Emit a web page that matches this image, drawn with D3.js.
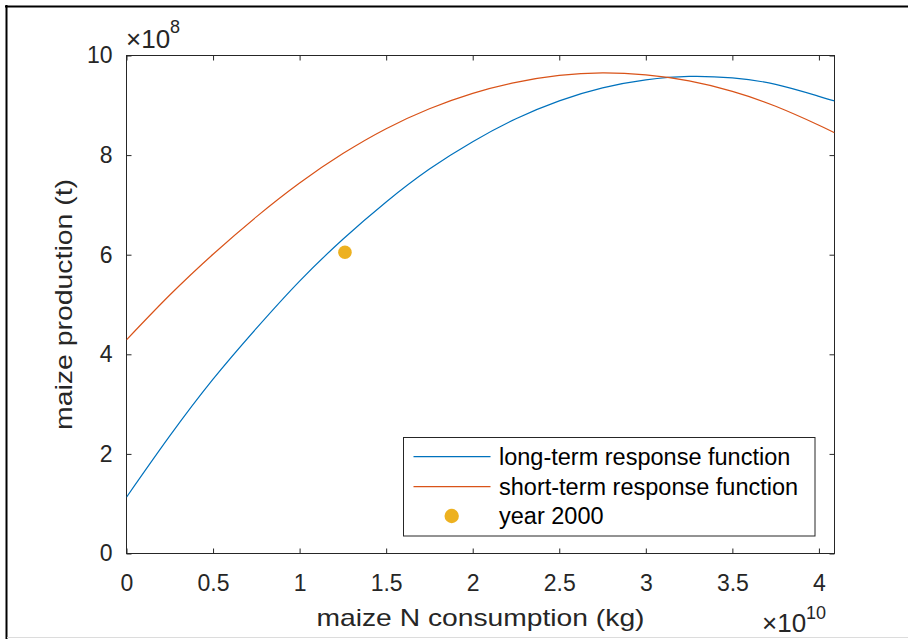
<!DOCTYPE html>
<html>
<head>
<meta charset="utf-8">
<script src="https://cdn.jsdelivr.net/npm/d3@7"></script>
<style>
  html, body { margin: 0; padding: 0; background: #ffffff; }
  svg { display: block; font-family: "Liberation Sans", Arial, Helvetica, sans-serif; }
</style>
</head>
<body>
<svg id="chart" width="908" height="639"></svg>
<script>
// ---- data (x in units of 1e10 kg, y in units of 1e8 t) ----
const nConsumption = [0, 0.25, 0.5, 0.75, 1.0, 1.25, 1.5, 1.75, 2.0, 2.25, 2.5, 2.75, 3.0, 3.25, 3.5, 3.75, 4.0, 4.09];
const longTerm  = [1.13, 2.36, 3.50, 4.52, 5.47, 6.31, 7.06, 7.72, 8.27, 8.73, 9.09, 9.35, 9.51, 9.58, 9.55, 9.42, 9.18, 9.09];
const shortTerm = [4.29, 5.19, 6.01, 6.76, 7.44, 8.03, 8.53, 8.93, 9.24, 9.46, 9.60, 9.65, 9.61, 9.49, 9.28, 8.98, 8.60, 8.45];
const year2000X = [1.262];
const year2000Y = [6.05];
const xTicks = [0, 0.5, 1, 1.5, 2, 2.5, 3, 3.5, 4];
const yTicks = [0, 2, 4, 6, 8, 10];
const seriesNames = ["long-term response function", "short-term response function", "year 2000"];
const colors = ["#0072BD", "#D95319", "#EDB120"];

const svg = d3.select("#chart");

// outer frame of the screenshot
svg.append("line").attr("x1", 5).attr("x2", 908).attr("y1", 6.5).attr("y2", 6.5).attr("stroke", "#000").attr("stroke-width", 2);
svg.append("line").attr("x1", 6.5).attr("x2", 6.5).attr("y1", 5).attr("y2", 639).attr("stroke", "#000").attr("stroke-width", 2);
svg.append("line").attr("x1", 7).attr("x2", 908).attr("y1", 637.5).attr("y2", 637.5).attr("stroke", "#dcdcdc").attr("stroke-width", 1);

const L = 126.5, R = 834.5, T = 55.5, B = 553.5;
const x = d3.scaleLinear().domain([0, 4.09]).range([L, R]);
const y = d3.scaleLinear().domain([0, 10]).range([B, T]);

const axisColor = "#262626";
function styleAxis(g) {
  g.select(".domain").remove();
  g.selectAll(".tick line").attr("stroke", axisColor).attr("stroke-width", 1);
  g.selectAll(".tick text").attr("fill", axisColor).style("font-size", "23px");
}

svg.append("g").attr("transform", `translate(0,${B})`)
  .call(d3.axisBottom(x).tickValues(xTicks).tickFormat(d3.format("")).tickSizeInner(-5).tickSizeOuter(0).tickPadding(21))
  .call(styleAxis);
svg.append("g").attr("transform", `translate(0,${T})`)
  .call(d3.axisTop(x).tickValues(xTicks).tickFormat("").tickSizeInner(-5).tickSizeOuter(0))
  .call(styleAxis);
svg.append("g").attr("transform", `translate(${L},0)`)
  .call(d3.axisLeft(y).tickValues(yTicks).tickFormat(d3.format("")).tickSizeInner(-5).tickSizeOuter(0).tickPadding(14))
  .call(styleAxis);
svg.append("g").attr("transform", `translate(${R},0)`)
  .call(d3.axisRight(y).tickValues(yTicks).tickFormat("").tickSizeInner(-5).tickSizeOuter(0))
  .call(styleAxis);

// axes box
svg.append("rect").attr("x", L).attr("y", T).attr("width", R - L).attr("height", B - T)
  .attr("fill", "none").attr("stroke", axisColor).attr("stroke-width", 1);

// curves
svg.append("clipPath").attr("id", "plotclip").append("rect")
  .attr("x", L).attr("y", T).attr("width", R - L).attr("height", B - T);
const plot = svg.append("g").attr("clip-path", "url(#plotclip)");
const line = d3.line().x(d => x(d[0])).y(d => y(d[1])).curve(d3.curveNatural);
[longTerm, shortTerm].forEach((vals, i) => {
  plot.append("path").datum(nConsumption.map((v, j) => [v, vals[j]]))
    .attr("d", line).attr("fill", "none").attr("stroke", colors[i]).attr("stroke-width", 1.2);
});
svg.selectAll("circle.pt").data(year2000X.map((v, j) => [v, year2000Y[j]])).enter()
  .append("circle").attr("class", "pt").attr("cx", d => x(d[0])).attr("cy", d => y(d[1]))
  .attr("r", 6.8).attr("fill", colors[2]);

// exponent labels
const e8 = svg.append("text").attr("x", 126).attr("y", 48).attr("fill", axisColor).style("font-size", "26px");
e8.append("tspan").text("×10");
e8.append("tspan").attr("dy", -15).style("font-size", "18px").text("8");
const e10 = svg.append("text").attr("x", 762).attr("y", 632).attr("fill", axisColor).style("font-size", "26px");
e10.append("tspan").text("×10");
e10.append("tspan").attr("dy", -13).style("font-size", "18px").text("10");

// axis labels
svg.append("text").attr("x", (L + R) / 2).attr("y", 626).attr("text-anchor", "middle")
  .attr("fill", axisColor).style("font-size", "24px")
  .attr("textLength", 328).attr("lengthAdjust", "spacingAndGlyphs")
  .text("maize N consumption (kg)");
svg.append("text").attr("transform", `translate(72,${(T + B) / 2}) rotate(-90)`).attr("text-anchor", "middle")
  .attr("fill", axisColor).style("font-size", "24px")
  .attr("textLength", 251).attr("lengthAdjust", "spacingAndGlyphs")
  .text("maize production (t)");

// legend
const lg = svg.append("g");
lg.append("rect").attr("x", 403.5).attr("y", 437.5).attr("width", 411.5).attr("height", 98.5)
  .attr("fill", "#fff").attr("stroke", axisColor).attr("stroke-width", 1);
const rowY = [456.7, 486.7, 516];
seriesNames.forEach((name, i) => {
  if (i < 2) {
    lg.append("line").attr("x1", 413.5).attr("x2", 490.5).attr("y1", rowY[i]).attr("y2", rowY[i])
      .attr("stroke", colors[i]).attr("stroke-width", 1.2);
  } else {
    lg.append("circle").attr("cx", 451.7).attr("cy", rowY[i]).attr("r", 7.2).attr("fill", colors[i]);
  }
  lg.append("text").attr("x", 499).attr("y", rowY[i]).attr("dy", "0.35em")
    .attr("fill", "#000").style("font-size", "23.5px").text(name);
});
</script>
</body>
</html>
